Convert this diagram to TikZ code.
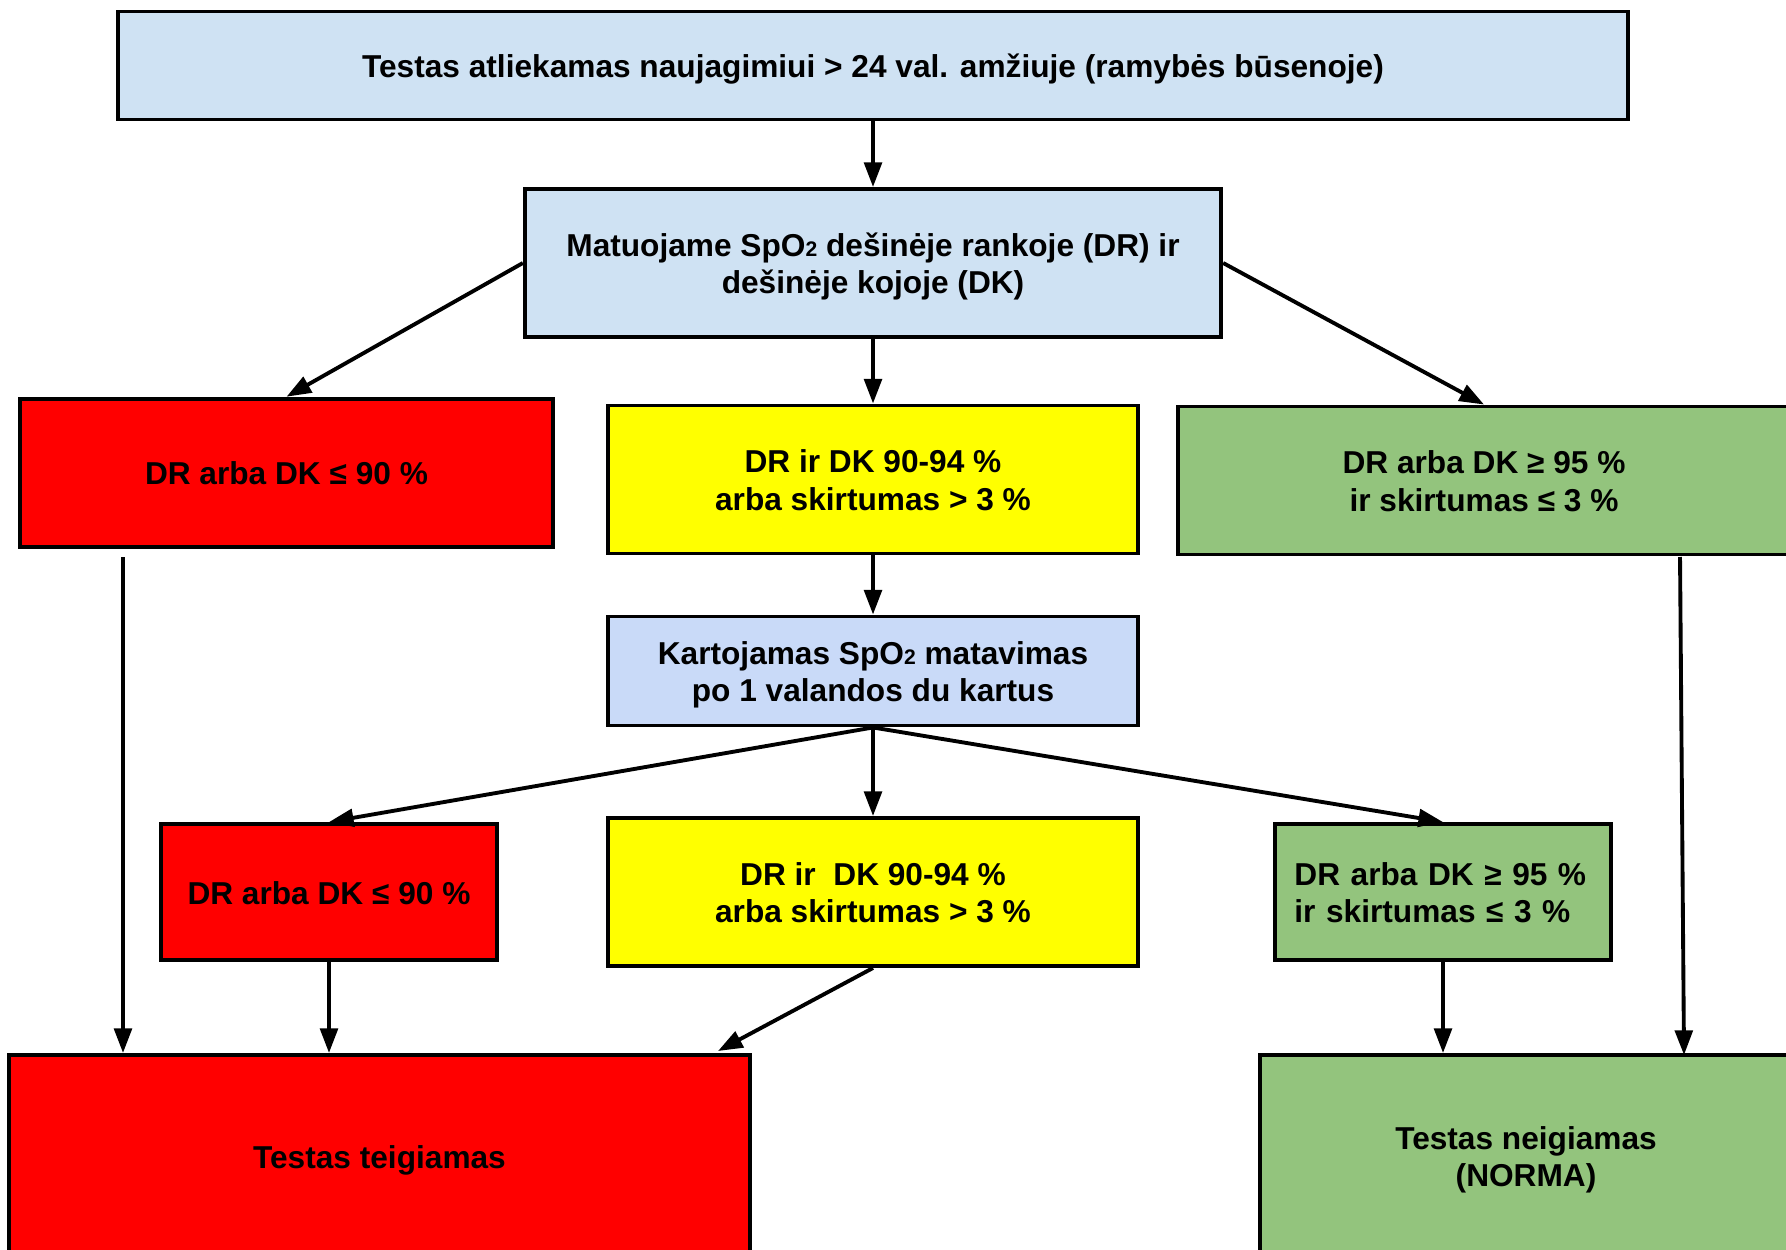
\documentclass[tikz,border=0pt]{standalone}
\usepackage{fontspec}
\setmainfont{Liberation Sans}
\usetikzlibrary{arrows.meta,positioning}
\definecolor{paleblue}{HTML}{CFE2F3}
\definecolor{lavblue}{HTML}{C9DAF8}
\definecolor{alarmred}{HTML}{FF0000}
\definecolor{warnyellow}{HTML}{FFFF00}
\definecolor{okgreen}{HTML}{93C47D}
\newcommand{\spotwo}{SpO{\fontsize{6}{6}\selectfont 2}}
\newcommand{\topline}{\rule{0pt}{9.1pt}}

\begin{document}
\begin{tikzpicture}[x=0.01cm,y=-0.01cm,
  box/.style={draw,line width=1.1pt,inner sep=0pt,align=center,
    font=\fontsize{9}{10.7}\selectfont\bfseries,
    execute at end node={\rule[-2.2pt]{0pt}{2.2pt}}},
  link/.style={line width=1.1pt,-{Triangle[length=7pt,width=5pt]}}]
  \useasboundingbox (0,0) rectangle (1786,1249);
  % first measurement
  \node[box,fill=paleblue,minimum width=15.09cm,minimum height=1.08cm] (start) at (873,65.5)
    {\topline Testas atliekamas naujagimiui > 24 val. amžiuje (ramybės būsenoje)};
  \node[box,fill=paleblue,minimum width=6.96cm,minimum height=1.48cm] (measure) at (873,263)
    {\topline Matuojame \spotwo{} dešinėje rankoje (DR) ir\\dešinėje kojoje (DK)};
  % first results
  \node[box,fill=alarmred,minimum width=5.32cm,minimum height=1.48cm] (low1) at (286.5,472.7)
    {\topline DR arba DK ≤ 90 \%};
  \node[box,fill=warnyellow,minimum width=5.30cm,minimum height=1.48cm] (mid1) at (873,479.5)
    {\topline DR ir DK 90-94 \%\\arba skirtumas > 3 \%};
  \node[box,fill=okgreen,minimum width=6.12cm,minimum height=1.48cm] (high1) at (1484,480.5)
    {\topline DR arba DK ≥ 95 \%\\ir skirtumas ≤ 3 \%};
  % repeated measurement
  \node[box,fill=lavblue,minimum width=5.30cm,minimum height=1.09cm] (again) at (873,671)
    {\topline Kartojamas \spotwo{} matavimas\\po 1 valandos du kartus};
  \node[box,fill=alarmred,minimum width=3.35cm,minimum height=1.36cm] (low2) at (329,892)
    {\topline DR arba DK ≤ 90 \%};
  \node[box,fill=warnyellow,minimum width=5.30cm,minimum height=1.48cm] (mid2) at (873,892)
    {\topline DR ir\ \ DK 90-94 \%\\arba skirtumas > 3 \%};
  \node[box,fill=okgreen,align=left,inner xsep=0.19cm,text width=2.97cm,minimum height=1.36cm] (high2) at (1443,892)
    {\topline DR arba DK ≥ 95 \%\\ir skirtumas ≤ 3 \%};
  % outcomes
  \node[box,fill=alarmred,minimum width=7.41cm,minimum height=2.02cm] (positive) at (379.5,1156)
    {\topline Testas teigiamas};
  \node[box,fill=okgreen,minimum width=5.32cm,minimum height=2.02cm] (negative) at (1526,1156)
    {\topline Testas neigiamas\\(NORMA)};
  % connectors
  \draw[link] (start) -- (measure);
  \draw[link] (measure.west) -- (low1.north);
  \draw[link] (measure) -- (mid1);
  \draw[link] (measure.east) -- (high1.north);
  \draw[link] (mid1) -- (again);
  \draw[link] (again.south) -- (low2.north);
  \draw[link] (again) -- (mid2);
  \draw[link] (again.south) -- (high2.north);
  \coordinate (redtail) at (123,557);
  \draw[link] (redtail) -- (redtail |- positive.north);
  \draw[link] (low2) -- (low2 |- positive.north);
  \coordinate (midhead) at (718,1051);
  \draw[link] (mid2.south) -- (midhead);
  \draw[link] (high2) -- (high2 |- negative.north);
  \coordinate (greentail) at (1680,557);
  \coordinate (greenhead) at (1684,1055);
  \draw[link] (greentail) -- (greenhead);
\end{tikzpicture}
\end{document}
